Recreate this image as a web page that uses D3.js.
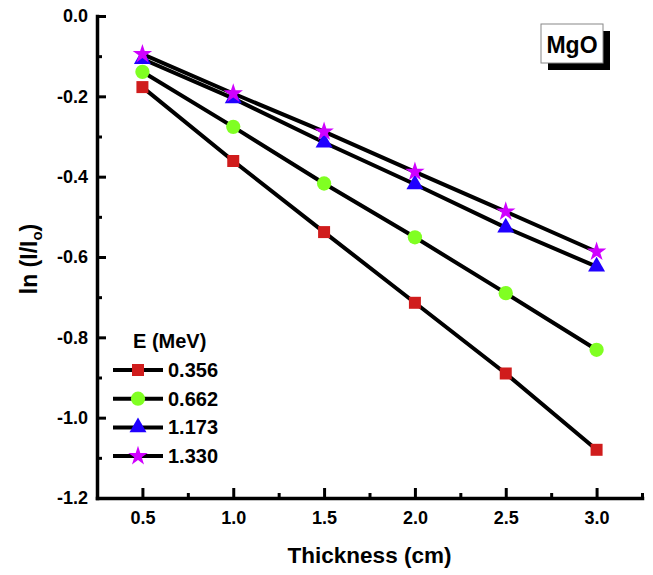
<!DOCTYPE html>
<html>
<head>
<meta charset="utf-8">
<script src="https://cdn.jsdelivr.net/npm/d3@7"></script>
<style>
  body { margin: 0; background: #fff; }
  text { font-family: "Liberation Sans", Arial, sans-serif; font-weight: bold; }
</style>
</head>
<body>
<script>
// data
var thickness = [0.5, 1.0, 1.5, 2.0, 2.5, 3.0];
var e0356 = [-0.177, -0.361, -0.538, -0.714, -0.890, -1.080];
var e0662 = [-0.139, -0.276, -0.417, -0.551, -0.690, -0.831];
var e1173 = [-0.107, -0.205, -0.315, -0.419, -0.527, -0.624];
var e1330 = [-0.095, -0.193, -0.288, -0.388, -0.487, -0.587];
var energies = ["0.356", "0.662", "1.173", "1.330"];
var xTicks = [0.5, 1.0, 1.5, 2.0, 2.5, 3.0];
var xMinor = [0.75, 1.25, 1.75, 2.25, 2.75, 3.25];
var yTicks = [0.0, -0.2, -0.4, -0.6, -0.8, -1.0, -1.2];
var yMinor = [-0.1, -0.3, -0.5, -0.7, -0.9, -1.1];

var width = 653, height = 575;
var plotLeft = 97, plotRight = 642, plotTop = 16, plotBottom = 498;

var x = d3.scaleLinear().domain([0.25, 3.25]).range([plotLeft, plotRight]);
var y = d3.scaleLinear().domain([-1.2, 0]).range([plotBottom, plotTop]);

var series = [
  {name: energies[0], values: e0356, shape: d3.symbolSquare, size: 144, fill: "#d01c1c"},
  {name: energies[1], values: e0662, shape: d3.symbolCircle, size: 160, fill: "#80ff22"},
  {name: energies[2], values: e1173, shape: d3.symbolTriangle, size: 125, fill: "#2000ff"},
  {name: energies[3], values: e1330, shape: d3.symbolStar, size: 118, fill: "#d000ff"}
];

var svg = d3.select("body").append("svg")
  .attr("width", width)
  .attr("height", height);

svg.append("rect").attr("width", width).attr("height", height).attr("fill", "#fff");

var fmt = function(d){ return d3.format(".1f")(d).replace("\u2212", "-"); };

/* ---------- axes ---------- */
var xAxis = svg.append("g")
  .attr("transform", "translate(0," + plotBottom + ")")
  .call(d3.axisBottom(x).tickValues(xTicks).tickFormat(fmt).tickSizeInner(-10).tickSizeOuter(0).tickPadding(13));
svg.append("g")
  .attr("transform", "translate(0," + plotBottom + ")")
  .call(d3.axisBottom(x).tickValues(xMinor).tickFormat("").tickSizeInner(-5).tickSizeOuter(0))
  .select(".domain").remove();

var yAxis = svg.append("g")
  .attr("transform", "translate(" + plotLeft + ",0)")
  .call(d3.axisLeft(y).tickValues(yTicks).tickFormat(fmt).tickSizeInner(-9).tickSizeOuter(0).tickPadding(9));
svg.append("g")
  .attr("transform", "translate(" + plotLeft + ",0)")
  .call(d3.axisLeft(y).tickValues(yMinor).tickFormat("").tickSizeInner(-5).tickSizeOuter(0))
  .select(".domain").remove();

svg.selectAll(".domain").attr("stroke", "#000").attr("stroke-width", 3.5).attr("stroke-linecap", "square");
svg.selectAll(".tick line").attr("stroke", "#000").attr("stroke-width", 3);
svg.selectAll(".tick text")
  .attr("fill", "#000")
  .style("font-size", "18px")
  .style("font-family", "'Liberation Sans', Arial, sans-serif")
  .style("font-weight", "bold");
xAxis.selectAll(".tick text").attr("dy", "0.71em");

// axis titles
svg.append("text")
  .attr("x", (plotLeft + plotRight) / 2)
  .attr("y", 563)
  .attr("text-anchor", "middle")
  .style("font-size", "22.5px")
  .text("Thickness (cm)");

var ylab = svg.append("text")
  .attr("transform", "translate(37," + ((plotTop + plotBottom) / 2 + 2) + ") rotate(-90)")
  .attr("text-anchor", "middle")
  .style("font-size", "23px");
ylab.append("tspan").text("ln (I/I");
ylab.append("tspan").attr("dy", 5).style("font-size", "15px").text("o");
ylab.append("tspan").attr("dy", -5).text(")");

/* ---------- lines + markers ---------- */
var line = d3.line()
  .x(function(d, i){ return x(thickness[i]); })
  .y(function(d){ return y(d); });

var plot = svg.append("g");
series.forEach(function(s){
  plot.append("path")
    .attr("d", line(s.values))
    .attr("fill", "none")
    .attr("stroke", "#000")
    .attr("stroke-width", 4);
});
series.forEach(function(s){
  plot.selectAll(null)
    .data(s.values).enter()
    .append("path")
    .attr("transform", function(d, i){ return "translate(" + x(thickness[i]) + "," + y(d) + ")"; })
    .attr("d", d3.symbol().type(s.shape).size(s.size))
    .attr("fill", s.fill);
});

/* ---------- legend ---------- */
var lg = svg.append("g");
lg.append("text")
  .attr("x", 133)
  .attr("y", 348)
  .style("font-size", "20px")
  .text("E (MeV)");

series.forEach(function(s, i){
  var ly = 370 + i * 28.7;
  lg.append("line")
    .attr("x1", 113).attr("x2", 163)
    .attr("y1", ly).attr("y2", ly)
    .attr("stroke", "#000").attr("stroke-width", 4);
  lg.append("path")
    .attr("transform", "translate(138," + ly + ")")
    .attr("d", d3.symbol().type(s.shape).size(s.size))
    .attr("fill", s.fill);
  lg.append("text")
    .attr("x", 168)
    .attr("y", ly + 7)
    .style("font-size", "20px")
    .text(s.name);
});

/* ---------- MgO label ---------- */
svg.append("rect")
  .attr("x", 548).attr("y", 31).attr("width", 62).attr("height", 39)
  .attr("fill", "#000");
svg.append("rect")
  .attr("x", 541).attr("y", 24).attr("width", 62).attr("height", 39)
  .attr("fill", "#fff").attr("stroke", "#888").attr("stroke-width", 1);
svg.append("text")
  .attr("x", 572)
  .attr("y", 53)
  .attr("text-anchor", "middle")
  .style("font-size", "23px")
  .text("MgO");
</script>
</body>
</html>
